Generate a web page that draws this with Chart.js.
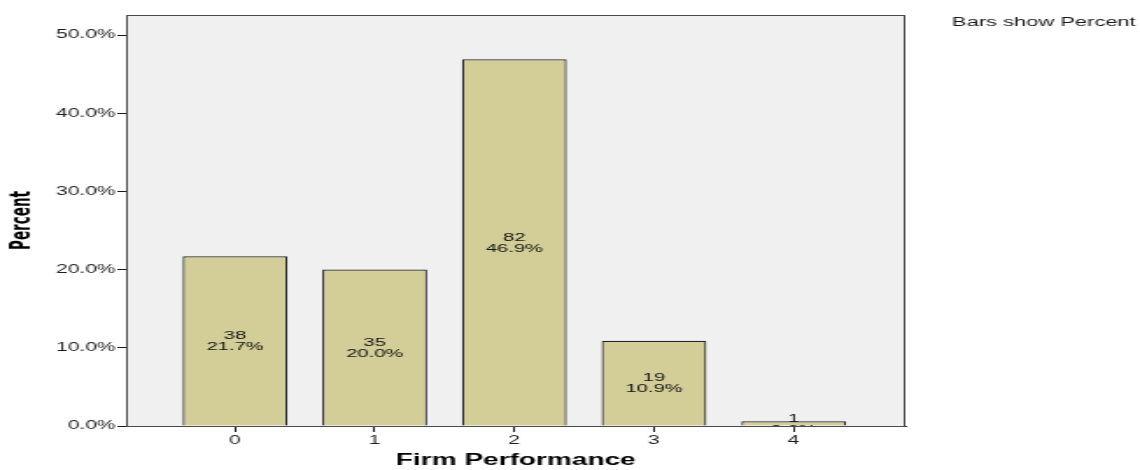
<!DOCTYPE html>
<html>
<head>
<meta charset="utf-8">
<script src="https://cdn.jsdelivr.net/npm/chart.js@4"></script>
<style>
  html, body { margin: 0; padding: 0; background: #ffffff; overflow: hidden; }
  #wrap { width: 651px; height: 470px; transform: scaleX(1.7512); transform-origin: 0 0; }
  canvas { display: block; }
</style>
</head>
<body>
<div id="wrap"><canvas id="c" width="651" height="470"></canvas></div>
<script>
// ---- data ----
const categories = [0, 1, 2, 3, 4];
const counts = [38, 35, 82, 19, 1];
const percentValues = [21.7, 20.0, 46.9, 10.9, 0.6];
const yTickValues = [0, 10, 20, 30, 40, 50];
const xTitle = 'Firm Performance';
const yTitle = 'Percent';
const noteText = 'Bars show Percent';

const SANS = "'Liberation Sans', Arial, sans-serif";
const NARROW = "'Liberation Sans Narrow', 'DejaVu Sans Condensed', sans-serif";

const frameBg = {
  id: 'frameBg',
  beforeDraw(chart) {
    const {ctx, chartArea: a} = chart;
    ctx.save();
    ctx.fillStyle = '#f0f0f0';
    ctx.fillRect(a.left, a.top, a.right - a.left, a.bottom - a.top);
    ctx.restore();
  },
  afterDraw(chart) {
    const {ctx, chartArea: a} = chart;
    ctx.save();
    ctx.strokeStyle = '#4a4a4a';
    ctx.lineWidth = 1;
    ctx.strokeRect(a.left + 0.5, a.top + 0.5, a.right - a.left - 1, a.bottom - a.top);
    ctx.fillStyle = '#1a1a1a';
    ctx.font = '12.5px ' + SANS;
    ctx.textAlign = 'left';
    ctx.textBaseline = 'middle';
    ctx.fillText(noteText, 543.6, 23);
    ctx.restore();
  }
};

const barLabels = {
  id: 'barLabels',
  afterDatasetsDraw(chart) {
    const {ctx, chartArea: a} = chart;
    const meta = chart.getDatasetMeta(0);
    ctx.save();
    ctx.beginPath();
    ctx.rect(a.left, a.top, a.right - a.left, a.bottom - a.top);
    ctx.clip();
    ctx.fillStyle = '#111111';
    ctx.font = '11.5px ' + SANS;
    ctx.textAlign = 'center';
    ctx.textBaseline = 'middle';
    meta.data.forEach((el, i) => {
      const mid = (el.y + el.base) / 2 + 0.5;
      ctx.fillText(String(counts[i]), el.x, mid - 5.5);
      ctx.fillText(percentValues[i].toFixed(1) + '%', el.x, mid + 5.5);
    });
    ctx.restore();
  }
};

new Chart(document.getElementById('c'), {
  type: 'bar',
  data: {
    datasets: [{
      data: categories.map((c, i) => ({x: c, y: percentValues[i]})),
      backgroundColor: '#d3ce98',
      borderColor: '#262626',
      borderWidth: 1.2,
      borderSkipped: 'bottom',
      barPercentage: 0.75,
      categoryPercentage: 1.0
    }]
  },
  options: {
    responsive: false,
    devicePixelRatio: 1,
    animation: false,
    layout: { padding: { top: 15, right: 134, left: 0, bottom: 0 } },
    plugins: { legend: { display: false }, tooltip: { enabled: false } },
    scales: {
      x: {
        type: 'linear',
        offset: false,
        min: -0.78,
        max: 4.8,
        afterBuildTicks: s => { s.ticks = categories.map(v => ({value: v})); },
        afterFit: s => { s.height = 44; },
        grid: { offset: false, drawOnChartArea: false, drawTicks: true, tickLength: 6, tickColor: '#1a1a1a', tickWidth: 1 },
        border: { display: true, color: '#1a1a1a', width: 1 },
        ticks: {
          color: '#1f1f1f',
          font: { family: SANS, size: 12 },
          padding: 1,
          callback: v => String(v)
        },
        title: {
          display: true,
          text: xTitle,
          color: '#000000',
          font: { family: SANS, size: 16, weight: 'bold' },
          padding: { top: 0, bottom: 0 }
        }
      },
      y: {
        min: 0,
        max: 52.56,
        afterBuildTicks: s => { s.ticks = yTickValues.map(v => ({value: v})); },
        afterFit: s => { s.width = 72; },
        grid: { drawOnChartArea: false, drawTicks: true, tickLength: 5, tickColor: '#1a1a1a', tickWidth: 1 },
        border: { display: true, color: '#1a1a1a', width: 1 },
        ticks: {
          color: '#1f1f1f',
          font: { family: SANS, size: 12 },
          padding: 1,
          callback: v => v.toFixed(1) + '%'
        },
        title: {
          display: true,
          text: yTitle,
          color: '#000000',
          font: { family: NARROW, size: 15, weight: 'bold' },
          padding: { top: 4, bottom: 0 }
        }
      }
    }
  },
  plugins: [frameBg, barLabels]
});
</script>
</body>
</html>
